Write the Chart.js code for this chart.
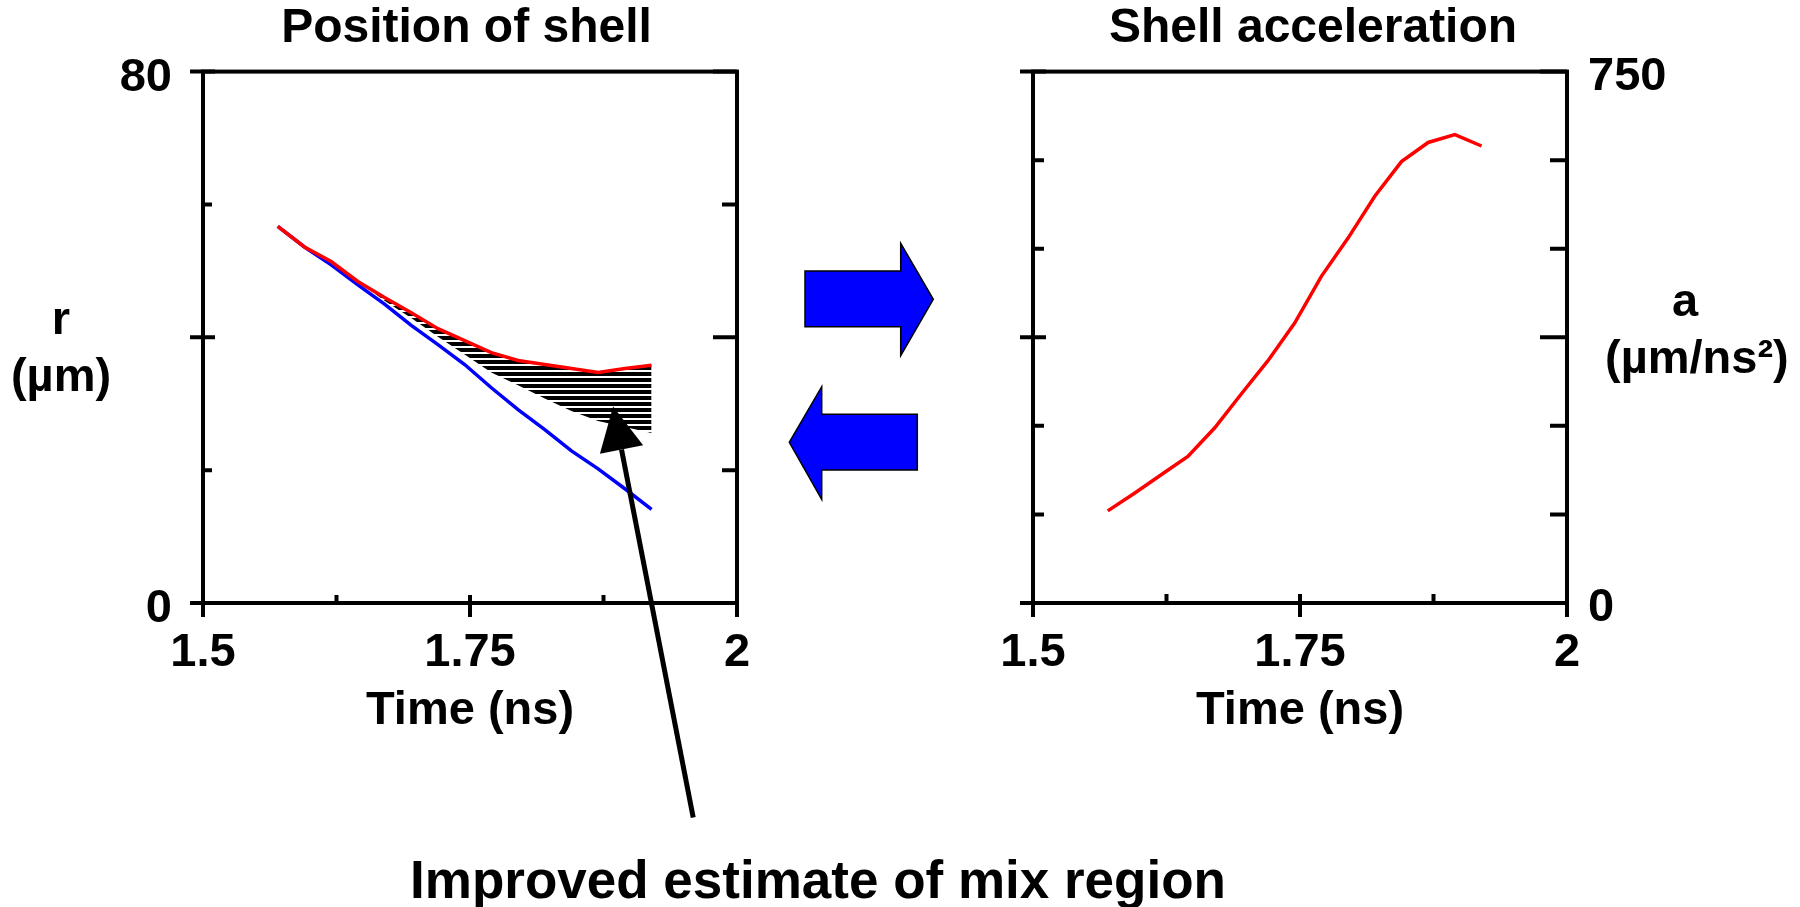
<!DOCTYPE html>
<html>
<head>
<meta charset="utf-8">
<script src="https://cdn.jsdelivr.net/npm/chart.js@4"></script>
<style>
  body { margin:0; width:1800px; height:907px; background:#fff; position:relative; overflow:hidden;
         font-family:"Liberation Sans", Arial, sans-serif; font-weight:bold; color:#000; }
  .box { position:absolute; top:0; }
  .lab { position:absolute; text-align:center; font-size:47px; line-height:57px; white-space:nowrap; }
</style>
</head>
<body>
<div class="box" style="left:0"><canvas id="posChart" width="933" height="907"></canvas></div>
<div class="box" style="left:826px"><canvas id="accChart" width="974" height="907"></canvas></div>
<svg width="1800" height="907" style="position:absolute;left:0;top:0;pointer-events:none">
  <polygon points="805,271 900.7,271 900.7,243.3 933.3,299.3 900.7,355.7 900.7,326.7 805,326.7"
           fill="#0000ff" stroke="#000" stroke-width="1.5"/>
  <polygon points="917.3,414.3 821.7,414.3 821.7,386.7 789.3,442.3 821.7,499.3 821.7,470 917.3,470"
           fill="#0000ff" stroke="#000" stroke-width="1.5"/>
</svg>
<div class="lab" style="left:-19px;top:289px;width:160px">r<br>(µm)</div>
<div class="lab" style="left:1605px;top:271px;width:160px">a<br>(µm/ns²)</div>
<div class="lab" style="left:318px;top:850px;width:1000px;font-size:53px;line-height:60px">Improved estimate of mix region</div>

<script>
// values
const times  = [1.57, 1.595, 1.62, 1.645, 1.67, 1.695, 1.72, 1.745, 1.77, 1.795, 1.82, 1.845, 1.87, 1.895, 1.92];
const outerR = [56.7, 53.6, 51.4, 48.4, 46.0, 43.7, 41.3, 39.5, 37.7, 36.5, 35.9, 35.3, 34.7, 35.3, 35.8];
const innerR = [56.7, 53.6, 50.9, 47.9, 45.0, 41.8, 38.9, 35.9, 32.4, 29.1, 26.1, 22.9, 20.2, 17.2, 14.1];
const mixTimes = [1.645, 1.67, 1.695, 1.72, 1.745, 1.77, 1.795, 1.82, 1.845, 1.87, 1.895, 1.92];
const mixLowR  = [48.4, 45.5, 42.9, 40.1, 37.4, 34.7, 32.8, 30.8, 28.9, 27.4, 26.5, 25.6];
const accel  = [130, 155, 181, 207, 247, 295, 342, 395, 461, 515, 574, 623, 650, 661, 645];

const timeTicks = [1.5, 1.75, 2];
const rLabels = [0, 80];
const aLabels = [0, 750];

// arrow pointing at the mix region (data coords of tip and tail)
const pointer = { tip: [1.884, 29.6], tail: [1.959, -32.3] };

const pts = (xs, ys) => xs.map((x, i) => ({ x, y: ys[i] }));
const mixTop = outerR.slice(times.indexOf(mixTimes[0]));

Chart.defaults.font.family = '"Liberation Sans", Arial, sans-serif';
Chart.defaults.font.weight = 'bold';
Chart.defaults.font.size = 47;
Chart.defaults.color = '#000';

function hatch() {
  const c = document.createElement('canvas');
  c.width = 8; c.height = 6;
  const g = c.getContext('2d');
  g.fillStyle = '#000';
  g.fillRect(0, 0, 8, 4);
  return g.createPattern(c, 'repeat');
}

// box, inward/outward tick marks and the pointer arrow
const frame = {
  id: 'frame',
  afterDraw(chart, args, o) {
    const { ctx, chartArea: a, scales: { x, y } } = chart;
    ctx.save();
    ctx.strokeStyle = '#000';
    ctx.lineWidth = 4;
    ctx.strokeRect(a.left, a.top, a.width, a.height);
    ctx.beginPath();
    y.ticks.forEach(t => {
      const py = y.getPixelForValue(t.value);
      const major = o.yMajor.includes(t.value);
      ctx.moveTo(a.left - (major ? o.out : 0), py);
      ctx.lineTo(a.left + (major ? o.lMaj : o.lMin), py);
      ctx.moveTo(a.right, py);
      ctx.lineTo(a.right - (major ? o.rMaj : o.rMin), py);
    });
    x.ticks.forEach(t => {
      const px = x.getPixelForValue(t.value);
      const major = timeTicks.includes(t.value);
      ctx.moveTo(px, a.bottom + (major ? o.bOut : 0));
      ctx.lineTo(px, a.bottom - o.bIn);
    });
    ctx.stroke();

    if (o.pointer) {
      const tx = x.getPixelForValue(o.pointer.tip[0]), ty = y.getPixelForValue(o.pointer.tip[1]);
      const sx = x.getPixelForValue(o.pointer.tail[0]), sy = y.getPixelForValue(o.pointer.tail[1]);
      const len = Math.hypot(tx - sx, ty - sy);
      const ux = (tx - sx) / len, uy = (ty - sy) / len;
      const bx = tx - ux * 44, by = ty - uy * 44;
      ctx.lineWidth = 5;
      ctx.beginPath();
      ctx.moveTo(sx, sy);
      ctx.lineTo(bx, by);
      ctx.stroke();
      ctx.fillStyle = '#000';
      ctx.beginPath();
      ctx.moveTo(tx, ty);
      ctx.lineTo(bx - uy * 22, by + ux * 22);
      ctx.lineTo(bx + uy * 22, by - ux * 22);
      ctx.closePath();
      ctx.fill();
    }
    ctx.restore();
  }
};

function timeAxis() {
  return {
    type: 'linear', min: 1.5, max: 2,
    grid: { display: false, drawTicks: false },
    border: { display: false },
    ticks: {
      stepSize: 0.125, padding: 22, autoSkip: false, maxRotation: 0, minRotation: 0,
      callback: v => timeTicks.includes(v) ? String(v) : ''
    },
    title: { display: true, text: 'Time (ns)', font: { size: 47, weight: 'bold' }, padding: { top: 0, bottom: 168 } },
    afterFit: s => { s.height = 304; }
  };
}

// empty axis that only reserves room beside the plot
function spacer(position, width) {
  return {
    type: 'linear', position, display: true,
    grid: { display: false, drawTicks: false },
    border: { display: false },
    ticks: { display: false },
    afterFit: s => { s.width = width; }
  };
}

function titleOpts(text) {
  return { display: true, text, color: '#000',
           font: { size: 48, weight: 'bold' }, padding: { top: 0, bottom: 14 } };
}

const lineStyle = { borderWidth: 3.5, pointRadius: 0, fill: false };

new Chart(document.getElementById('posChart'), {
  type: 'line',
  data: {
    datasets: [
      { ...lineStyle, data: pts(times, outerR), borderColor: '#ff0000', order: 0 },
      { ...lineStyle, data: pts(times, innerR), borderColor: '#0000ff', order: 1 },
      { data: pts(mixTimes, mixTop), borderColor: 'rgba(0,0,0,0)', borderWidth: 1, pointRadius: 0, fill: false, order: 3 },
      { data: pts(mixTimes, mixLowR), borderColor: 'rgba(0,0,0,0)', borderWidth: 1, pointRadius: 0,
        fill: '-1', backgroundColor: hatch(), order: 2 }
    ]
  },
  options: {
    responsive: false, animation: false, devicePixelRatio: 1,
    layout: { padding: 0 },
    scales: {
      x: timeAxis(),
      y: {
        min: 0, max: 80,
        grid: { display: false, drawTicks: false },
        border: { display: false },
        ticks: { stepSize: 20, padding: 31, labelOffset: 6, autoSkip: false,
                 callback: v => rLabels.includes(v) ? String(v) : '' },
        afterFit: s => { s.width = 203; }
      },
      pad: spacer('right', 196)
    },
    plugins: {
      legend: { display: false },
      tooltip: { enabled: false },
      title: titleOpts('Position of shell'),
      frame: { yMajor: [0, 40, 80], out: 13, lMaj: 12, lMin: 9, rMaj: 24, rMin: 15, bOut: 14, bIn: 8, pointer }
    }
  },
  plugins: [frame]
});

new Chart(document.getElementById('accChart'), {
  type: 'line',
  data: {
    datasets: [
      { ...lineStyle, data: pts(times, accel), borderColor: '#ff0000' }
    ]
  },
  options: {
    responsive: false, animation: false, devicePixelRatio: 1,
    layout: { padding: 0 },
    scales: {
      x: timeAxis(),
      y: {
        position: 'right', min: 0, max: 750,
        grid: { display: false, drawTicks: false },
        border: { display: false },
        ticks: { stepSize: 125, padding: 21, labelOffset: 5, autoSkip: false,
                 callback: v => aLabels.includes(v) ? String(v) : '' },
        afterFit: s => { s.width = 233; }
      },
      pad: spacer('left', 207)
    },
    plugins: {
      legend: { display: false },
      tooltip: { enabled: false },
      title: titleOpts('Shell acceleration'),
      frame: { yMajor: [0, 375, 750], out: 13, lMaj: 13, lMin: 11, rMaj: 27, rMin: 17, bOut: 14, bIn: 9 }
    }
  },
  plugins: [frame]
});
</script>
</body>
</html>
